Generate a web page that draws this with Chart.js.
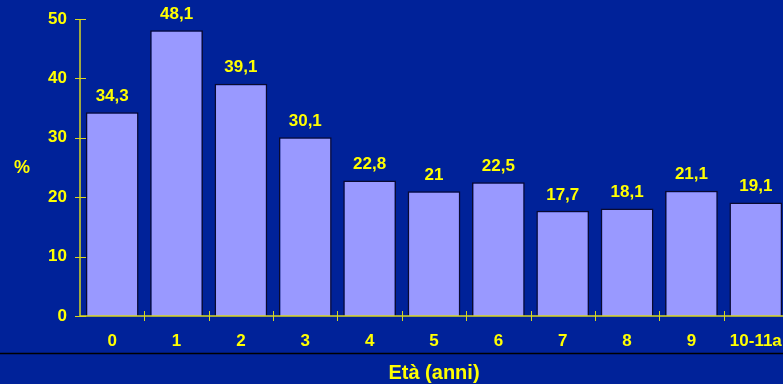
<!DOCTYPE html>
<html>
<head>
<meta charset="utf-8">
<script src="https://cdn.jsdelivr.net/npm/chart.js@4/dist/chart.umd.min.js"></script>
<style>
  html, body { margin: 0; padding: 0; background: #002299; overflow: hidden; }
  #wrap { width: 783px; height: 384px; overflow: hidden; }
</style>
</head>
<body>
<div id="wrap"><canvas id="c" width="788" height="384"></canvas></div>
<script>
// Età dei pazienti (anni) e percentuale corrispondente
const categories = ['0', '1', '2', '3', '4', '5', '6', '7', '8', '9', '10-11a'];
const percentuali = [34.3, 48.1, 39.1, 30.1, 22.8, 21, 22.5, 17.7, 18.1, 21.1, 19.1];
const yTicks = [0, 10, 20, 30, 40, 50];

const YELLOW = '#FFFF00';
const AXIS = '#D8D820';
const FONT = 'Liberation Sans, Arial, sans-serif';

const fmt = v => String(v).replace('.', ',');

const decorations = {
  id: 'decorations',
  beforeDraw(chart) {
    const { ctx, width, height } = chart;
    ctx.save();
    ctx.fillStyle = '#002299';
    ctx.fillRect(0, 0, width, height);
    ctx.restore();
  },
  afterDraw(chart) {
    const { ctx, scales: { x, y }, width } = chart;
    ctx.save();
    // axis lines
    ctx.strokeStyle = AXIS;
    ctx.lineWidth = 1.5;
    ctx.beginPath();
    ctx.moveTo(x.left, y.getPixelForValue(50));
    ctx.lineTo(x.left, y.getPixelForValue(0));
    ctx.lineTo(x.right, y.getPixelForValue(0));
    ctx.stroke();
    // y tick marks crossing the axis
    ctx.lineWidth = 1;
    yTicks.forEach(v => {
      const py = Math.round(y.getPixelForValue(v)) + 0.5;
      ctx.beginPath();
      ctx.moveTo(x.left - 5, py);
      ctx.lineTo(x.left + 6, py);
      ctx.stroke();
    });
    // x tick marks between categories
    const base = y.getPixelForValue(0);
    for (let i = 0; i < categories.length - 1; i++) {
      const px = Math.round((x.getPixelForValue(i) + x.getPixelForValue(i + 1)) / 2) + 0.5;
      ctx.beginPath();
      ctx.moveTo(px, base - 5);
      ctx.lineTo(px, base + 5);
      ctx.stroke();
    }
    // separator line above the axis title
    ctx.strokeStyle = '#000000';
    ctx.lineWidth = 1.5;
    ctx.beginPath();
    ctx.moveTo(0, 353.5);
    ctx.lineTo(width, 353.5);
    ctx.stroke();
    // value labels
    ctx.fillStyle = YELLOW;
    ctx.font = 'bold 17px ' + FONT;
    ctx.textAlign = 'center';
    ctx.textBaseline = 'middle';
    const meta = chart.getDatasetMeta(0);
    meta.data.forEach((bar, i) => {
      ctx.fillText(fmt(percentuali[i]), bar.x, bar.y - 16);
    });
    // unit label
    ctx.font = 'bold 18px ' + FONT;
    ctx.fillText('%', 22, 168);
    ctx.restore();
  }
};

new Chart(document.getElementById('c'), {
  type: 'bar',
  data: {
    labels: categories,
    datasets: [{
      data: percentuali,
      backgroundColor: '#9999FF',
      borderColor: '#0A0A30',
      borderWidth: 1.5,
      barPercentage: 0.82,
      categoryPercentage: 1.0
    }]
  },
  options: {
    responsive: false,
    animation: false,
    events: [],
    layout: { padding: { top: 19, left: 0, right: 0, bottom: 0 } },
    plugins: { legend: { display: false }, tooltip: { enabled: false } },
    scales: {
      x: {
        grid: { display: false, drawTicks: false },
        border: { display: false },
        ticks: { color: YELLOW, font: { family: FONT, size: 17, weight: 'bold' }, padding: 15, maxRotation: 0, autoSkip: false },
        title: { display: true, text: 'Età (anni)', color: YELLOW, font: { family: FONT, size: 20, weight: 'bold' }, padding: { top: 0, bottom: -1 } },
        afterFit(s) { s.height = 68; s.paddingLeft = 0; s.paddingRight = 0; }
      },
      y: {
        min: 0, max: 50,
        afterBuildTicks(s) { s.ticks = yTicks.map(v => ({ value: v })); },
        grid: { display: false, drawTicks: false },
        border: { display: false },
        ticks: { color: YELLOW, font: { family: FONT, size: 17, weight: 'bold' }, padding: 13 },
        afterFit(s) { s.width = 80; s.paddingTop = 0; s.paddingBottom = 0; }
      }
    }
  },
  plugins: [decorations]
});
</script>
</body>
</html>
